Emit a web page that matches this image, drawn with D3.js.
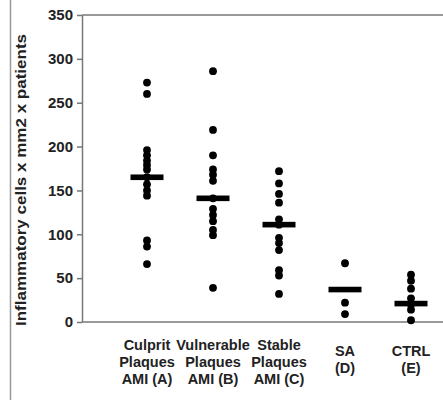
<!DOCTYPE html>
<html>
<head>
<meta charset="utf-8">
<script src="https://cdn.jsdelivr.net/npm/d3@7"></script>
<style>
  body { margin: 0; background: #fff; }
  text { font-family: "Liberation Sans", Arial, sans-serif; font-weight: bold; fill: #222; }
</style>
</head>
<body>
<div id="chart"></div>
<script>
var categories = ["A", "B", "C", "D", "E"]
var catLabels = [
  ["Culprit", "Plaques", "AMI (A)"],
  ["Vulnerable", "Plaques", "AMI (B)"],
  ["Stable", "Plaques", "AMI (C)"],
  ["SA", "(D)"],
  ["CTRL", "(E)"]
]
var valuesA = [273, 260, 196, 190, 184, 179, 174, 165, 157, 150, 144, 93, 86, 66]
var valuesB = [286, 219, 190, 174, 168, 161, 141, 129, 122, 115, 105, 99, 39]
var valuesC = [172, 158, 146, 136, 117, 111, 96, 90, 82, 59, 53, 32]
var valuesD = [67, 22, 9]
var valuesE = [54, 47, 38, 27, 20, 14, 2]
var medians = [165, 141, 111, 37, 21]
var yTicks = [0, 50, 100, 150, 200, 250, 300, 350]

var groups = [valuesA, valuesB, valuesC, valuesD, valuesE]

var W = 443, H = 400
var svg = d3.select("#chart").append("svg")
  .attr("width", W)
  .attr("height", H)

var y = d3.scaleLinear().domain([0, 350]).range([322, 15])
var x = d3.scalePoint().domain(categories).range([147, 411])

// figure border on the left
svg.append("line")
  .attr("x1", 10.5).attr("x2", 10.5).attr("y1", 0).attr("y2", H)
  .attr("stroke", "#999").attr("stroke-width", 1.5)

// top frame line
svg.append("line")
  .attr("x1", 82).attr("x2", W).attr("y1", y(350)).attr("y2", y(350))
  .attr("stroke", "#777").attr("stroke-width", 1.5)

// x axis baseline
svg.append("line")
  .attr("x1", 82).attr("x2", W).attr("y1", y(0)).attr("y2", y(0))
  .attr("stroke", "#777").attr("stroke-width", 1.5)

var yAxis = svg.append("g")
  .attr("transform", "translate(82,0)")
  .call(d3.axisLeft(y).tickValues(yTicks).tickSize(5).tickSizeOuter(0).tickPadding(4))
yAxis.select(".domain").attr("stroke", "#777").attr("stroke-width", 1.5)
yAxis.selectAll(".tick line").attr("stroke", "#777").attr("stroke-width", 1.5)
yAxis.selectAll(".tick text")
  .style("font-size", "15px").style("font-family", "Liberation Sans, Arial, sans-serif")
  .style("font-weight", "bold").attr("fill", "#222")

svg.append("text")
  .attr("transform", "translate(26,180) rotate(-90)")
  .attr("text-anchor", "middle")
  .attr("textLength", 292)
  .attr("lengthAdjust", "spacingAndGlyphs")
  .style("font-size", "14.5px")
  .text("Inflammatory cells x mm2 x patients")

// points
groups.forEach(function(vals, i) {
  svg.append("g").selectAll("circle").data(vals)
    .enter()
      .append("circle")
      .attr("cx", x(categories[i]))
      .attr("cy", d => y(d))
      .attr("r", 3.9)
      .attr("fill", "#000")
})

// median bars
svg.append("g").selectAll("rect").data(medians)
  .enter()
    .append("rect")
    .attr("x", (d, i) => x(categories[i]) - 16.5)
    .attr("y", d => y(d) - 2.8)
    .attr("width", 33)
    .attr("height", 5.6)
    .attr("fill", "#000")

// category labels
catLabels.forEach(function(lines, i) {
  var y0 = lines.length == 3 ? 345 : 351
  var t = svg.append("text")
    .attr("text-anchor", "middle")
    .style("font-size", "14.5px")
  lines.forEach(function(l, j) {
    t.append("tspan")
      .attr("x", x(categories[i]))
      .attr("y", y0 + j * 17 + 5)
      .text(l)
  })
})
</script>
</body>
</html>
